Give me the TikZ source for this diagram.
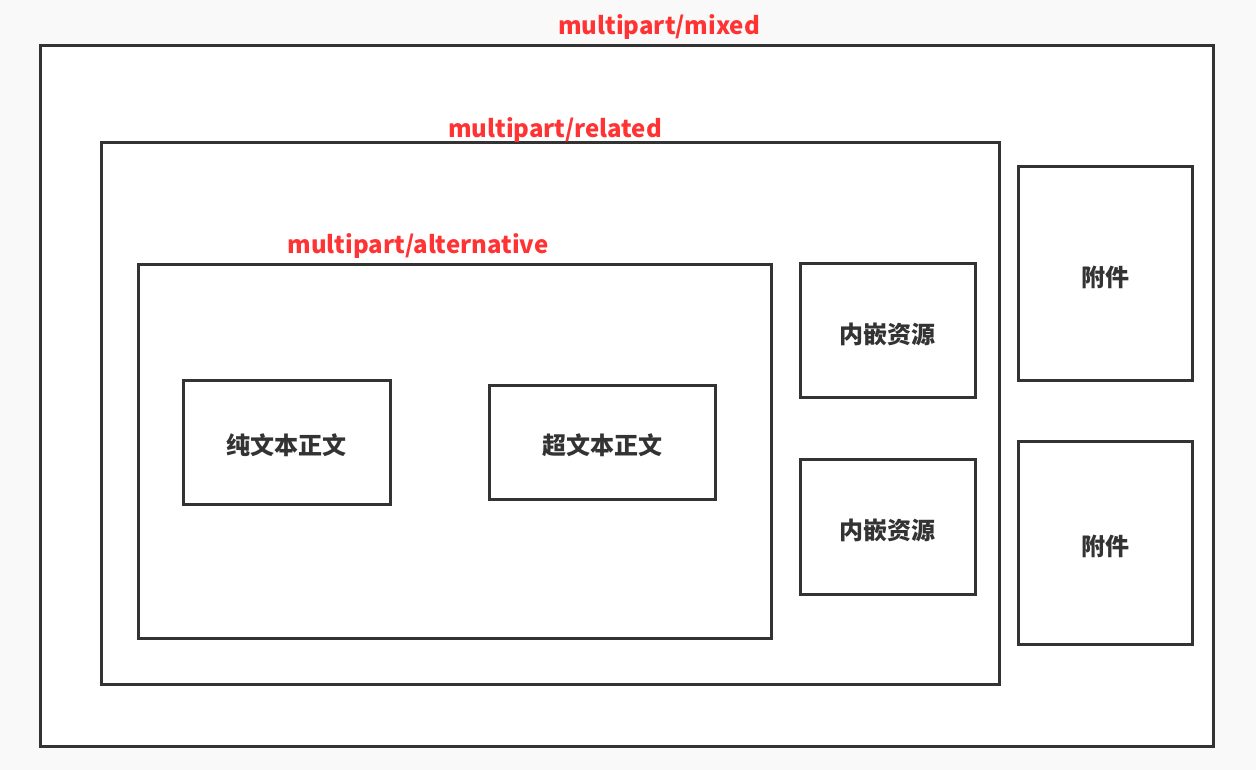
\documentclass[tikz,border=0pt]{standalone}
\usepackage{fontspec}
\setmainfont{Noto Sans CJK SC}
\definecolor{bgc}{HTML}{F9F9F9}
\definecolor{linec}{HTML}{333333}
\definecolor{redc}{HTML}{FF3333}
\tikzset{
  boxs/.style={draw=linec, line width=3pt, fill=white},
  lbl/.style={text=redc, font=\fontsize{24}{28}\selectfont\bfseries, inner sep=0pt},
  cjkt/.style={text=linec, font=\fontsize{24}{28}\selectfont\bfseries, inner sep=0pt},
}
\begin{document}
\begin{tikzpicture}[x=1pt,y=-1pt]
\fill[bgc] (0,0) rectangle (1256,770);
\useasboundingbox (0,0) rectangle (1256,770);
\draw[boxs] (40,46) rectangle (1213,746);
\draw[boxs] (101,143) rectangle (999,684);
\draw[boxs] (138,265) rectangle (771,638);
\node[boxs, minimum width=207pt, minimum height=124pt] (plain) at (286.5,442) {};
\node[cjkt] at ([yshift=-3.5pt]plain.center) {纯文本正文};
\node[boxs, minimum width=226pt, minimum height=114pt] (html) at (602,442) {};
\node[cjkt] at ([yshift=-3.5pt]html.center) {超文本正文};
\node[boxs, minimum width=175pt, minimum height=133pt] (res1) at (887.5,330.5) {};
\node[cjkt] at ([yshift=-3.5pt]res1.center) {内嵌资源};
\node[boxs, minimum width=175pt, minimum height=135pt] (res2) at (887.5,526.5) {};
\node[cjkt] at ([yshift=-3.5pt]res2.center) {内嵌资源};
\node[boxs, minimum width=174pt, minimum height=213pt] (att1) at (1105,273.5) {};
\node[cjkt] at ([yshift=-3.5pt]att1.center) {附件};
\node[boxs, minimum width=174pt, minimum height=203pt] (att2) at (1105,542.5) {};
\node[cjkt] at ([yshift=-3.5pt]att2.center) {附件};
\node[lbl] (mixed) at (659,27) {multipart/mixed};
\node[lbl] (related) at (555,130) {multipart/related};
\node[lbl] (alt) at (418,246) {multipart/alternative};
\end{tikzpicture}
\end{document}
